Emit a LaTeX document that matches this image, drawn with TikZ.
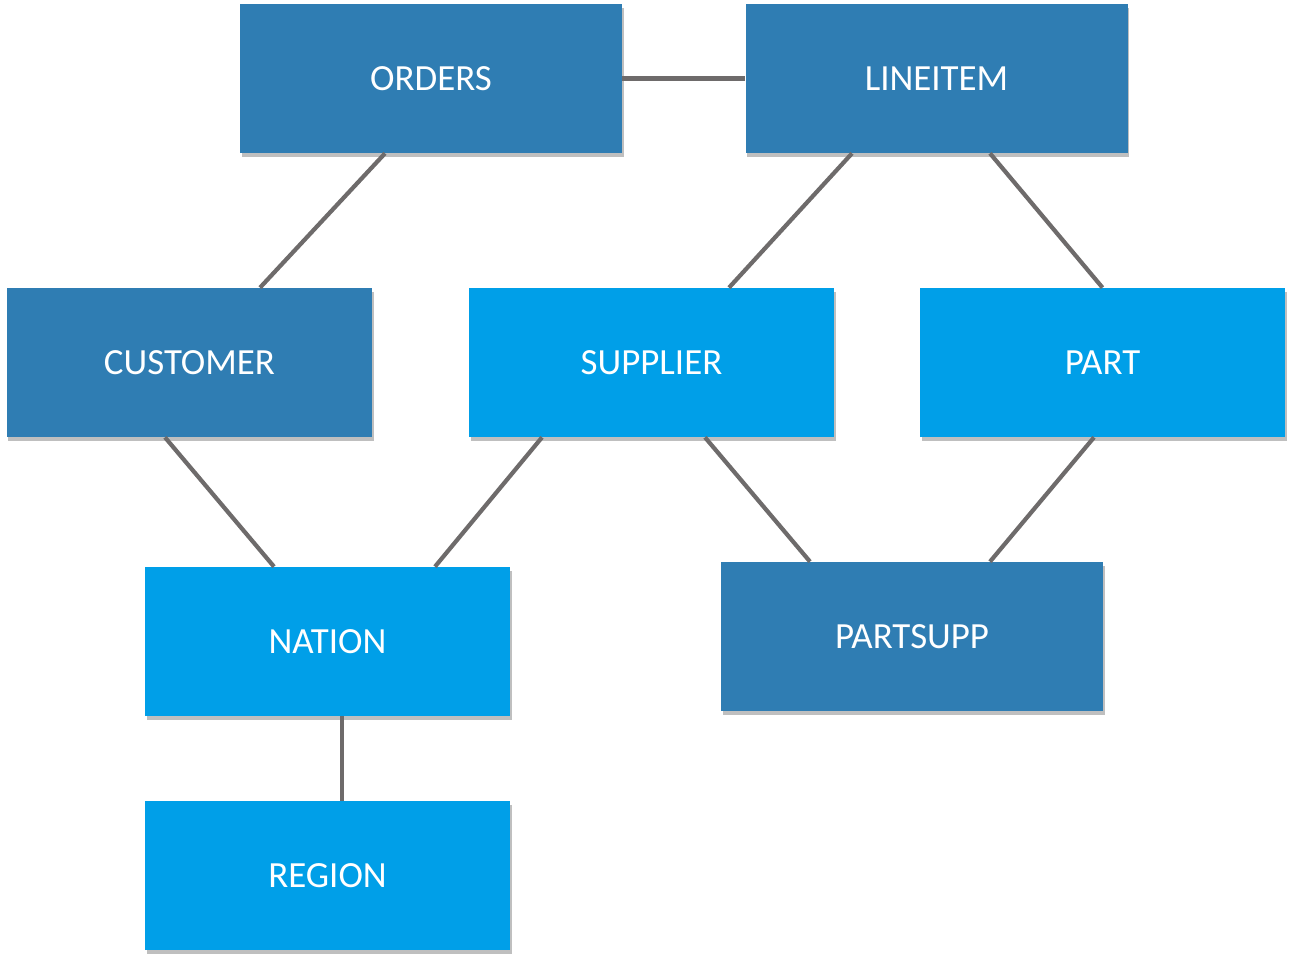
\documentclass[tikz,border=0pt]{standalone}
\usepackage{fontspec}
\setmainfont{Carlito}
\usetikzlibrary{positioning,shadows}

\definecolor{darkblue}{HTML}{2F7DB3}
\definecolor{brightblue}{HTML}{009FE8}
\definecolor{linkgray}{HTML}{6E6B6B}

\begin{document}
\begin{tikzpicture}[%
    node distance=5cm,
    on grid,
    table/.style={rectangle, fill=brightblue, text=white, inner sep=0pt,
      minimum width=7.3cm, minimum height=2.98cm,
      font=\fontsize{21pt}{25pt}\selectfont,
      drop shadow={shadow xshift=0.03cm, shadow yshift=-0.07cm, opacity=0.25, fill=black}},
    dimtable/.style={table, fill=darkblue},
    wide/.style={minimum width=7.64cm},
    link/.style={draw=linkgray, line width=2.4pt}
  ]
    \useasboundingbox (0,0) rectangle (25.84,-19.22);

    \node[dimtable, wide] (orders) at (8.62,-1.57) {ORDERS};
    \node[dimtable, wide] (lineitem) [right=10.11cm of orders] {LINEITEM};
    \node[dimtable] (customer) [below left=5.68cm and 4.83cm of orders] {CUSTOMER};
    \node[table] (supplier) [right=9.24cm of customer] {SUPPLIER};
    \node[table] (part) [right=9.02cm of supplier] {PART};
    \node[table] (nation) [below right=5.58cm and 2.76cm of customer] {NATION};
    \node[dimtable, wide] (partsupp) [below right=5.48cm and 5.21cm of supplier] {PARTSUPP};
    \node[table] (region) [below=4.68cm of nation] {REGION};

    \path[link] (orders) edge (lineitem)
      ([xshift=-0.92cm]orders.south)   edge ([xshift=1.41cm]customer.north)
      ([xshift=-1.69cm]lineitem.south) edge ([xshift=1.55cm]supplier.north)
      ([xshift=1.07cm]lineitem.south)  edge (part.north)
      ([xshift=-0.49cm]customer.south) edge ([xshift=-1.07cm]nation.north)
      ([xshift=-2.19cm]supplier.south) edge ([xshift=2.15cm]nation.north)
      ([xshift=1.07cm]supplier.south)  edge ([xshift=-2.04cm]partsupp.north)
      ([xshift=-0.17cm]part.south)     edge ([xshift=1.56cm]partsupp.north)
      ([xshift=0.29cm]nation.south)    edge ([xshift=0.29cm]region.north);
\end{tikzpicture}
\end{document}
